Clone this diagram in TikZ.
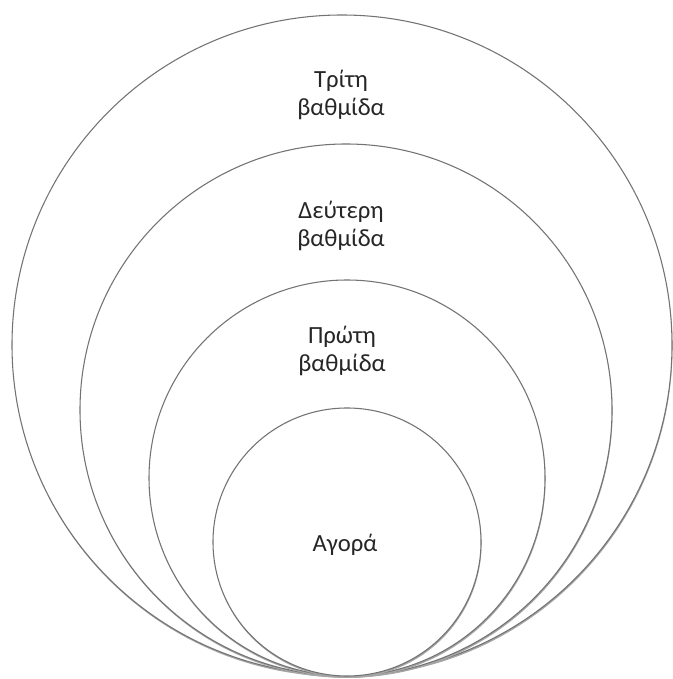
\documentclass[tikz,border=0pt]{standalone}
\usepackage{fontspec}
\setmainfont{Carlito}
\tikzset{
  ring/.style={draw=black!55, line width=0.8pt, fill=white,
    preaction={fill=black!35, transform canvas={xshift=0.4pt, yshift=-1.4pt}}},
  tier/.style={align=center, text=black!85,
    font=\fontsize{18.5}{21.5}\selectfont}
}
\begin{document}
\begin{tikzpicture}[x=0.75pt,y=0.75pt]
    \useasboundingbox (0,0) rectangle (673,679);
    % Draw outer ring (third tier)
    \filldraw[ring] (342,334) circle (330);
    % Draw second ring
    \filldraw[ring] (346,269) circle (266);
    % Draw first ring
    \filldraw[ring] (347,201) circle (198);
    % Draw inner ring (market)
    \filldraw[ring] (347,137) circle (134);
    % Labels
    \node[tier] (third) at (341,584) {Τρίτη\\βαθμίδα};
    \node[tier] (second) at (341,453) {Δεύτερη\\βαθμίδα};
    \node[tier] (first) at (342,328) {Πρώτη\\βαθμίδα};
    \node[tier] (market) at (345,134) {Αγορά};
\end{tikzpicture}
\end{document}
